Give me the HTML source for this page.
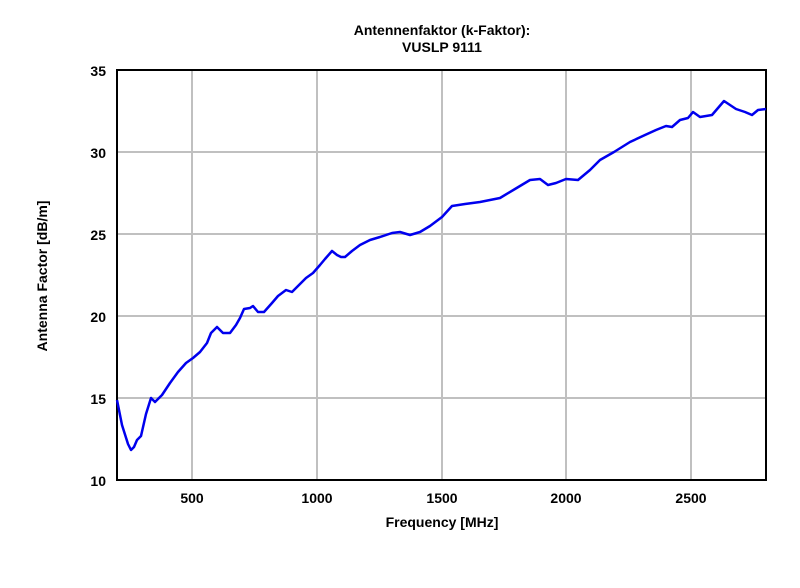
<!DOCTYPE html>
<html><head><meta charset="utf-8"><style>
body{margin:0;background:#fff;}
svg text{font-family:"Liberation Sans",Arial,sans-serif;font-weight:bold;fill:#000;}
</style></head><body>
<svg width="800" height="583" viewBox="0 0 800 583" xmlns="http://www.w3.org/2000/svg">
<rect width="800" height="583" fill="#fff"/>
<g stroke="#c0c0c0" stroke-width="2">
<line x1="192" y1="70" x2="192" y2="480"/>
<line x1="317" y1="70" x2="317" y2="480"/>
<line x1="442" y1="70" x2="442" y2="480"/>
<line x1="566" y1="70" x2="566" y2="480"/>
<line x1="691" y1="70" x2="691" y2="480"/>
<line x1="117" y1="152" x2="766" y2="152"/>
<line x1="117" y1="234" x2="766" y2="234"/>
<line x1="117" y1="316" x2="766" y2="316"/>
<line x1="117" y1="398" x2="766" y2="398"/>
</g>
<rect x="117" y="70" width="649" height="410" fill="none" stroke="#000" stroke-width="2"/>
<polyline fill="none" stroke="#0000ee" stroke-width="2.5" stroke-linejoin="round" points="117,400 122,425 128,444 131,450 134,447 137,440 141,436 146,414 151,398 155,402 162,395 170,383 178,372 186,363 193,358 200,352 207,343 211,333 217,327 223,333 230,333 236,325 240,318 244,309 250,308 253,306 258,312 264,312 272,303 278,296 286,290 292,292 300,284 306,278 313,273 320,265 325,259 332,251 337,255 341,257 345,257 352,251 360,245 370,240 380,237 392,233 400,232 410,235 420,232 430,226 442,217 452,206 465,204 480,202 500,198 515,189 530,180 540,179 548,185 556,183 566,179 578,180 590,170 600,160 614,152 630,142 645,135 656,130 666,126 672,127 680,120 688,118 693,112 700,117 712,115 718,108 724,101 730,105 736,109 745,112 752,115 758,110 766,109"/>
<g font-size="14" text-anchor="end">
<text x="106" y="76">35</text>
<text x="106" y="158">30</text>
<text x="106" y="240">25</text>
<text x="106" y="322">20</text>
<text x="106" y="404">15</text>
<text x="106" y="486">10</text>
</g>
<g font-size="14" text-anchor="middle">
<text x="192" y="503">500</text>
<text x="317" y="503">1000</text>
<text x="442" y="503">1500</text>
<text x="566" y="503">2000</text>
<text x="691" y="503">2500</text>
<text x="442" y="527">Frequency [MHz]</text>
<text x="442" y="35">Antennenfaktor (k-Faktor):</text>
<text x="442" y="52">VUSLP 9111</text>
</g>
<text font-size="14" text-anchor="middle" transform="translate(47,276) rotate(-90)">Antenna Factor [dB/m]</text>
</svg>
</body></html>
